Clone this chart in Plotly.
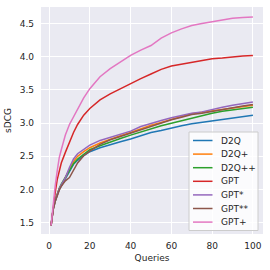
import plotly.graph_objects as go

queries = [1, 2, 3, 4, 5, 6, 8, 10, 12, 14, 17, 20, 25, 30, 35, 40, 45, 50, 55, 60, 65, 70, 75, 80, 85, 90, 95, 100]

d2q = [1.46, 1.70, 1.82, 1.92, 2.00, 2.05, 2.15, 2.27, 2.38, 2.44, 2.51, 2.57, 2.63, 2.68, 2.72, 2.76, 2.81, 2.86, 2.89, 2.93, 2.96, 2.99, 3.01, 3.04, 3.06, 3.08, 3.10, 3.12]
d2q_p = [1.46, 1.70, 1.83, 1.93, 2.01, 2.06, 2.17, 2.30, 2.42, 2.50, 2.57, 2.63, 2.70, 2.76, 2.81, 2.86, 2.92, 2.97, 3.01, 3.06, 3.10, 3.14, 3.16, 3.19, 3.21, 3.23, 3.25, 3.27]
d2q_pp = [1.46, 1.71, 1.84, 1.94, 2.02, 2.08, 2.18, 2.30, 2.39, 2.46, 2.53, 2.60, 2.66, 2.72, 2.77, 2.82, 2.87, 2.92, 2.96, 3.00, 3.04, 3.08, 3.11, 3.15, 3.18, 3.20, 3.22, 3.24]
gpt = [1.46, 1.75, 1.95, 2.15, 2.30, 2.40, 2.56, 2.72, 2.86, 2.98, 3.12, 3.22, 3.35, 3.44, 3.52, 3.60, 3.67, 3.74, 3.81, 3.86, 3.89, 3.92, 3.95, 3.97, 3.98, 4.00, 4.01, 4.02]
gpt_s = [1.46, 1.70, 1.83, 1.93, 2.01, 2.07, 2.18, 2.33, 2.46, 2.54, 2.61, 2.67, 2.74, 2.79, 2.83, 2.88, 2.95, 3.00, 3.04, 3.08, 3.12, 3.15, 3.17, 3.21, 3.24, 3.27, 3.30, 3.32]
gpt_ss = [1.46, 1.69, 1.82, 1.91, 1.99, 2.05, 2.13, 2.18, 2.28, 2.40, 2.51, 2.58, 2.68, 2.75, 2.80, 2.85, 2.91, 2.96, 3.00, 3.05, 3.09, 3.13, 3.15, 3.18, 3.21, 3.24, 3.26, 3.28]
gpt_p = [1.46, 1.80, 2.05, 2.28, 2.48, 2.60, 2.82, 2.98, 3.10, 3.20, 3.38, 3.52, 3.70, 3.82, 3.92, 4.02, 4.10, 4.17, 4.28, 4.36, 4.42, 4.47, 4.50, 4.53, 4.56, 4.58, 4.59, 4.60]

names = ["D2Q", "D2Q+", "D2Q++", "GPT", "GPT*", "GPT**", "GPT+"]
series = [d2q, d2q_p, d2q_pp, gpt, gpt_s, gpt_ss, gpt_p]
colors = ["#1f77b4", "#ff7f0e", "#2ca02c", "#d62728", "#9467bd", "#8c564b", "#e377c2"]

x_ticks = [0, 20, 40, 60, 80, 100]
y_ticks = [1.5, 2.0, 2.5, 3.0, 3.5, 4.0, 4.5]

# layout geometry (pixels)
W, H = 270, 270
L, R, T, B = 41, 7, 7, 36
PW, PH = W - L - R, H - T - B

def px_x(p):
    return (p - L) / PW

def px_y(p):
    return (H - B - p) / PH

fig = go.Figure()
for n, s, c in zip(names, series, colors):
    fig.add_trace(go.Scatter(x=queries, y=s, name=n, mode="lines", showlegend=False,
                             line=dict(color=c, width=1.5)))

font = dict(family="DejaVu Sans", size=9, color="#262626")

# compact legend (matplotlib-like)
shapes = [dict(type="rect", xref="paper", yref="paper", layer="above",
               x0=px_x(189), x1=px_x(258), y0=px_y(230.5), y1=px_y(132),
               fillcolor="rgba(255,255,255,0.8)", line=dict(color="#cccccc", width=1))]
annotations = []
y0 = 140.5
step = 13.6
for i, (n, c) in enumerate(zip(names, colors)):
    yc = y0 + i * step
    shapes.append(dict(type="line", xref="paper", yref="paper", layer="above",
                       x0=px_x(193), x1=px_x(212.5), y0=px_y(yc), y1=px_y(yc),
                       line=dict(color=c, width=1.5)))
    annotations.append(dict(text=n, xref="paper", yref="paper", x=px_x(218.5), y=px_y(yc),
                            xanchor="left", yanchor="middle", showarrow=False,
                            font=dict(family="DejaVu Sans", size=9, color="#262626")))

fig.update_layout(
    width=W, height=H,
    margin=dict(l=L, r=R, t=T, b=B, autoexpand=False),
    paper_bgcolor="white",
    plot_bgcolor="#EAEAF2",
    font=font,
    showlegend=False,
    shapes=shapes,
    annotations=annotations,
    xaxis=dict(range=[-3.95, 104.95], tickvals=x_ticks, ticktext=[str(v) for v in x_ticks],
               showgrid=True, gridcolor="white", gridwidth=1, zeroline=False,
               showline=False, ticks="", ticklabelstandoff=5, automargin=False,
               title=dict(text="Queries", standoff=4, font=font)),
    yaxis=dict(range=[1.33, 4.75], tickvals=y_ticks, ticktext=[f"{v:.1f}" for v in y_ticks],
               showgrid=True, gridcolor="white", gridwidth=1, zeroline=False,
               showline=False, ticks="", ticklabelstandoff=6, automargin=False,
               title=dict(text="sDCG", standoff=6, font=font)),
)

fig.write_html("out.html", config={"displayModeBar": False},
               post_script="document.body.style.margin='0px';")
